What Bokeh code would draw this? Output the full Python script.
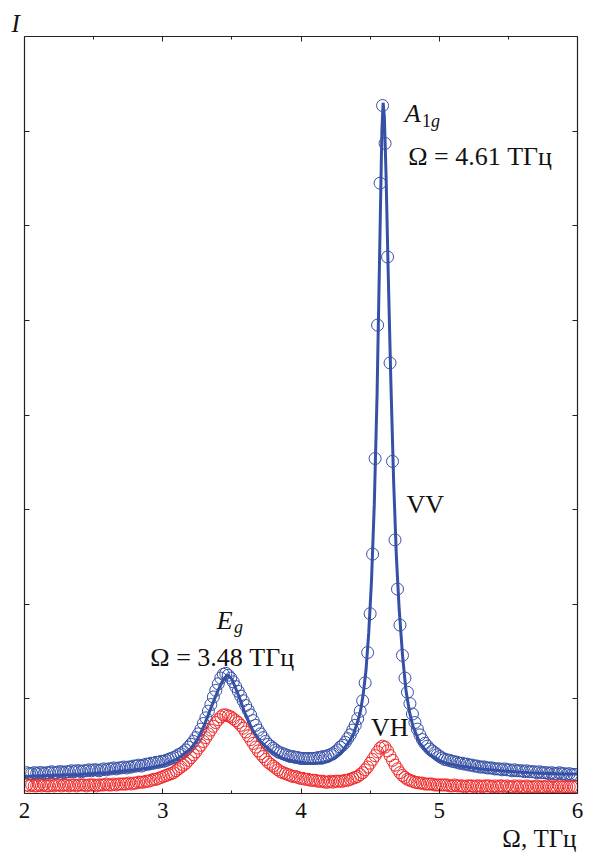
from bokeh.plotting import figure
from bokeh.models import LinearAxis, FixedTicker, Label, Title
from bokeh.embed import file_html
from bokeh.resources import INLINE

# Frequency grid of the measured spectra (THz)
freq = [
    2.016, 2.034, 2.052, 2.070, 2.088, 2.106, 2.124, 2.142, 2.160, 2.178,
    2.196, 2.214, 2.232, 2.250, 2.268, 2.286, 2.304, 2.322, 2.340, 2.358,
    2.376, 2.394, 2.412, 2.430, 2.448, 2.466, 2.484, 2.502, 2.520, 2.538,
    2.556, 2.574, 2.592, 2.610, 2.628, 2.646, 2.664, 2.682, 2.700, 2.718,
    2.736, 2.754, 2.772, 2.790, 2.808, 2.826, 2.844, 2.862, 2.880, 2.898,
    2.916, 2.934, 2.952, 2.970, 2.988, 3.006, 3.024, 3.042, 3.060, 3.078,
    3.096, 3.114, 3.132, 3.150, 3.168, 3.186, 3.204, 3.222, 3.240, 3.258,
    3.276, 3.294, 3.312, 3.330, 3.348, 3.366, 3.384, 3.402, 3.420, 3.438,
    3.456, 3.474, 3.492, 3.510, 3.528, 3.546, 3.564, 3.582, 3.600, 3.618,
    3.636, 3.654, 3.672, 3.690, 3.708, 3.726, 3.744, 3.762, 3.780, 3.798,
    3.816, 3.834, 3.852, 3.870, 3.888, 3.906, 3.924, 3.942, 3.960, 3.978,
    3.996, 4.014, 4.032, 4.050, 4.068, 4.086, 4.104, 4.122, 4.140, 4.158,
    4.176, 4.194, 4.212, 4.230, 4.248, 4.266, 4.284, 4.302, 4.320, 4.338,
    4.356, 4.374, 4.392, 4.410, 4.428, 4.446, 4.464, 4.482, 4.500, 4.518,
    4.536, 4.554, 4.572, 4.590, 4.608, 4.626, 4.644, 4.662, 4.680, 4.698,
    4.716, 4.734, 4.752, 4.770, 4.788, 4.806, 4.824, 4.842, 4.860, 4.878,
    4.896, 4.914, 4.932, 4.950, 4.968, 4.986, 5.004, 5.022, 5.040, 5.058,
    5.076, 5.094, 5.112, 5.130, 5.148, 5.166, 5.184, 5.202, 5.220, 5.238,
    5.256, 5.274, 5.292, 5.310, 5.328, 5.346, 5.364, 5.382, 5.400, 5.418,
    5.436, 5.454, 5.472, 5.490, 5.508, 5.526, 5.544, 5.562, 5.580, 5.598,
    5.616, 5.634, 5.652, 5.670, 5.688, 5.706, 5.724, 5.742, 5.760, 5.778,
    5.796, 5.814, 5.832, 5.850, 5.868, 5.886, 5.904, 5.922, 5.940, 5.958,
    5.976, 5.994,
]

# VV intensity (blue circles)
vv = [
    0.22, 0.21, 0.21, 0.22, 0.21, 0.22, 0.22, 0.21, 0.22, 0.22,
    0.23, 0.22, 0.22, 0.23, 0.23, 0.22, 0.23, 0.23, 0.24, 0.23,
    0.24, 0.24, 0.23, 0.24, 0.24, 0.25, 0.24, 0.25, 0.25, 0.24,
    0.25, 0.26, 0.25, 0.26, 0.26, 0.27, 0.26, 0.27, 0.27, 0.28,
    0.27, 0.28, 0.28, 0.29, 0.29, 0.30, 0.29, 0.30, 0.31, 0.31,
    0.32, 0.32, 0.33, 0.33, 0.34, 0.34, 0.35, 0.36, 0.37, 0.38,
    0.39, 0.41, 0.42, 0.44, 0.46, 0.49, 0.52, 0.55, 0.59, 0.63,
    0.68, 0.74, 0.80, 0.87, 0.94, 1.02, 1.09, 1.16, 1.22, 1.26,
    1.27, 1.25, 1.22, 1.18, 1.13, 1.08, 1.03, 0.98, 0.93, 0.88,
    0.83, 0.77, 0.72, 0.67, 0.63, 0.59, 0.55, 0.52, 0.50, 0.48,
    0.46, 0.44, 0.43, 0.42, 0.41, 0.40, 0.39, 0.39, 0.38, 0.38,
    0.37, 0.37, 0.37, 0.37, 0.37, 0.37, 0.37, 0.38, 0.38, 0.39,
    0.39, 0.40, 0.41, 0.42, 0.44, 0.46, 0.49, 0.51, 0.54, 0.58,
    0.62, 0.67, 0.72, 0.79, 0.87, 0.98, 1.17, 1.49, 1.90, 2.53,
    3.54, 4.95, 6.45, 7.27, 6.87, 5.67, 4.55, 3.51, 2.68, 2.16,
    1.78, 1.46, 1.22, 1.07, 0.95, 0.84, 0.75, 0.68, 0.62, 0.57,
    0.53, 0.50, 0.47, 0.45, 0.43, 0.41, 0.39, 0.375, 0.36, 0.355,
    0.35, 0.34, 0.335, 0.33, 0.32, 0.32, 0.31, 0.31, 0.30, 0.30,
    0.29, 0.29, 0.28, 0.28, 0.28, 0.27, 0.27, 0.27, 0.26, 0.26,
    0.26, 0.25, 0.26, 0.25, 0.25, 0.24, 0.25, 0.24, 0.24, 0.24,
    0.23, 0.24, 0.23, 0.23, 0.23, 0.22, 0.23, 0.22, 0.22, 0.22,
    0.21, 0.22, 0.21, 0.21, 0.22, 0.21, 0.21, 0.20, 0.21, 0.20,
    0.20, 0.20,
]

# VH intensity (red circles)
vh = [
    0.09, 0.08, 0.09, 0.08, 0.08, 0.09, 0.08, 0.09, 0.08, 0.08,
    0.09, 0.08, 0.09, 0.09, 0.08, 0.09, 0.09, 0.08, 0.09, 0.09,
    0.08, 0.09, 0.09, 0.09, 0.08, 0.09, 0.09, 0.09, 0.08, 0.09,
    0.09, 0.09, 0.10, 0.09, 0.09, 0.10, 0.09, 0.10, 0.10, 0.10,
    0.10, 0.11, 0.10, 0.11, 0.11, 0.12, 0.12, 0.12, 0.13, 0.13,
    0.14, 0.15, 0.15, 0.16, 0.17, 0.18, 0.19, 0.20, 0.21, 0.22,
    0.24, 0.26, 0.28, 0.30, 0.32, 0.35, 0.38, 0.41, 0.44, 0.48,
    0.51, 0.55, 0.59, 0.63, 0.67, 0.71, 0.75, 0.78, 0.81, 0.83,
    0.83, 0.82, 0.81, 0.79, 0.77, 0.75, 0.72, 0.69, 0.65, 0.61,
    0.57, 0.53, 0.49, 0.45, 0.42, 0.39, 0.36, 0.33, 0.31, 0.29,
    0.27, 0.25, 0.23, 0.22, 0.21, 0.20, 0.19, 0.18, 0.18, 0.17,
    0.16, 0.16, 0.15, 0.15, 0.14, 0.14, 0.14, 0.13, 0.13, 0.13,
    0.12, 0.12, 0.13, 0.12, 0.13, 0.13, 0.13, 0.13, 0.14, 0.14,
    0.15, 0.16, 0.17, 0.18, 0.20, 0.22, 0.25, 0.28, 0.32, 0.36,
    0.40, 0.44, 0.48, 0.50, 0.49, 0.45, 0.40, 0.35, 0.30, 0.26,
    0.22, 0.19, 0.17, 0.15, 0.14, 0.13, 0.12, 0.115, 0.11, 0.11,
    0.10, 0.10, 0.10, 0.10, 0.09, 0.09, 0.09, 0.09, 0.09, 0.09,
    0.08, 0.08, 0.09, 0.08, 0.08, 0.08, 0.07, 0.08, 0.08, 0.08,
    0.07, 0.08, 0.08, 0.07, 0.08, 0.08, 0.08, 0.07, 0.08, 0.07,
    0.08, 0.08, 0.07, 0.08, 0.07, 0.07, 0.08, 0.07, 0.08, 0.07,
    0.07, 0.08, 0.07, 0.07, 0.07, 0.08, 0.07, 0.07, 0.07, 0.08,
    0.07, 0.07, 0.07, 0.07, 0.08, 0.07, 0.07, 0.07, 0.07, 0.07,
    0.07, 0.07,
]

# Fitted VV curve (blue line)
fit_x = [2.00, 2.20, 2.40, 2.60, 2.80, 2.90, 3.00, 3.10, 3.20, 3.25,
         3.30, 3.35, 3.40, 3.44, 3.47, 3.50, 3.55, 3.60, 3.65, 3.70,
         3.75, 3.80, 3.87, 3.95, 4.05, 4.15, 4.20, 4.25, 4.30, 4.35,
         4.38, 4.41, 4.43, 4.45, 4.47, 4.49, 4.51, 4.53, 4.55, 4.57,
         4.585, 4.594, 4.603, 4.615, 4.63, 4.65, 4.67, 4.69, 4.71, 4.735,
         4.76, 4.785, 4.81, 4.86, 4.93, 5.00, 5.05, 5.15, 5.30, 5.45,
         5.65, 5.85, 6.00]
fit_y = [0.18, 0.19, 0.20, 0.22, 0.25, 0.27, 0.30, 0.36, 0.47, 0.57,
         0.72, 0.91, 1.09, 1.21, 1.25, 1.21, 1.03, 0.83, 0.67, 0.56,
         0.49, 0.43, 0.37, 0.34, 0.32, 0.32, 0.34, 0.38, 0.45, 0.55,
         0.63, 0.76, 0.87, 1.05, 1.30, 1.70, 2.25, 3.05, 4.20, 5.80,
         7.00, 7.30, 7.15, 6.55, 5.55, 4.35, 3.30, 2.50, 1.95, 1.45,
         1.08, 0.86, 0.71, 0.53, 0.41, 0.35, 0.32, 0.29, 0.26, 0.24,
         0.22, 0.21, 0.205]

x_ticks = [2, 3, 4, 5, 6]
x_minor = [2.5, 3.5, 4.5, 5.5]
y_ticks = [1, 2, 3, 4, 5, 6, 7]

BLUE = "#3650a6"
RED = "#f02828"
SERIF = "Liberation Serif"

p = figure(frame_width=553, frame_height=757, x_range=(2, 6), y_range=(0, 8),
           output_backend="svg", toolbar_location=None,
           x_axis_location=None, y_axis_location=None,
           min_border_left=24, min_border_right=12,
           min_border_top=36, min_border_bottom=10)
p.grid.visible = False
p.outline_line_color = None
p.background_fill_color = "white"
p.border_fill_color = "white"

# "I" (intensity) written above the top-left corner of the frame
p.title.text = "I"
p.title.align = "left"
p.title.offset = -13
p.title.standoff = 0
p.title.text_font = SERIF
p.title.text_font_size = "25px"
p.title.text_font_style = "italic"
p.title.text_color = "#111111"

def make_axis(ticks, minor, labels):
    ax = LinearAxis(ticker=FixedTicker(ticks=ticks, minor_ticks=minor))
    ax.axis_line_color = "#222222"
    ax.axis_line_width = 1.2
    ax.major_tick_line_color = "#222222"
    ax.minor_tick_line_color = "#222222"
    ax.major_tick_in = 5
    ax.major_tick_out = 0
    ax.minor_tick_in = 3
    ax.minor_tick_out = 0
    if labels:
        ax.major_label_text_font = SERIF
        ax.major_label_text_font_size = "23px"
        ax.major_label_text_color = "#111111"
        ax.major_label_standoff = 9
    else:
        ax.major_label_text_font_size = "0px"
        ax.major_label_standoff = 0
        ax.major_label_overrides = {t: "" for t in ticks}
    return ax

p.add_layout(make_axis(x_ticks, x_minor, True), "below")
p.add_layout(make_axis(x_ticks, x_minor, False), "above")
p.add_layout(make_axis(y_ticks, [], False), "left")
p.add_layout(make_axis(y_ticks, [], False), "right")

# x-axis caption at the lower right, below the tick labels
p.add_layout(Title(text="Ω, ТГц", align="right", offset=1, standoff=4,
                   text_font=SERIF, text_font_size="25px",
                   text_font_style="normal", text_color="#111111"), "below")

p.scatter(freq, vv, marker="circle", size=12, fill_color=None,
          line_color=BLUE, line_width=1.0)
p.scatter(freq, vh, marker="circle", size=12, fill_color=None,
          line_color=RED, line_width=1.0)
p.line(fit_x, fit_y, line_color=BLUE, line_width=3)

def lab(x, y, text, size="26px", style="normal", align="left"):
    p.add_layout(Label(x=x, y=y, text=text, text_font=SERIF,
                       text_font_size=size, text_font_style=style,
                       text_color="#111111", text_align=align,
                       text_baseline="alphabetic"))

lab(4.75, 7.19, "A", style="italic")
lab(4.875, 7.11, "1", size="18px")
lab(4.94, 7.11, "g", size="18px", style="italic")
lab(4.775, 6.73, "Ω = 4.61 ТГц")
lab(4.763, 3.057, "VV")
lab(4.507, 0.695, "VH")
lab(3.39, 1.833, "E", style="italic")
lab(3.515, 1.76, "g", size="18px", style="italic")
lab(2.91, 1.442, "Ω = 3.48 ТГц")

open("out.html", "w").write(file_html(p, INLINE))
